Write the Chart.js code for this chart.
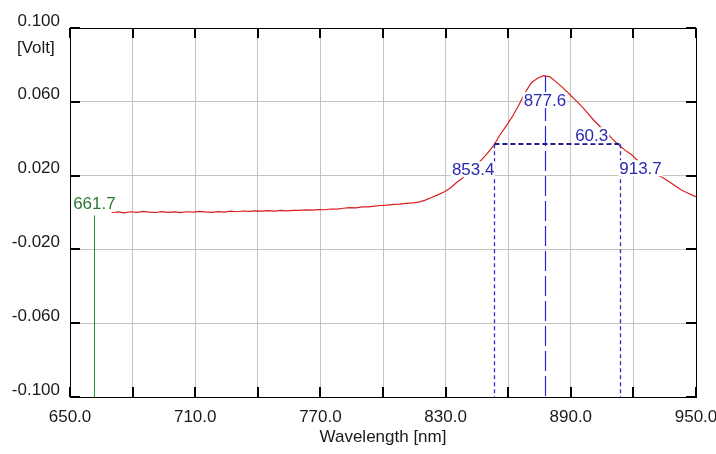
<!DOCTYPE html>
<html><head><meta charset="utf-8">
<script src="https://cdn.jsdelivr.net/npm/chart.js@4/dist/chart.umd.min.js"></script>
<style>html,body{margin:0;padding:0;background:#fff}#wrap{position:relative;width:716px;height:454px}</style>
</head><body><div id="wrap"><canvas id="c" width="716" height="454"></canvas></div>
<script>
// ---- data ----
const wavelengths = [670,673,676,679,682,685,688,691,694,697,700,703,706,709,712,715,718,721,724,727,730,733,736,739,742,745,748,751,754,757,760,763,766,769,772,775,778,781,784,787,790,793,796,799,802,805,808,811,814,817,820,823,826,829,832,835,838,841,844,847,850,853,856,859,862,865,868,871,874,877,880,883,886,889,892,895,898,901,904,907,910,913,916,919,922,925,928,931,934,937,940,943,946,949,950];
const voltage = [0.0000,0.0003,-0.0002,0.0004,0.0001,0.0006,0.0002,0.0000,0.0005,0.0001,0.0003,-0.0001,0.0004,0.0002,0.0006,0.0003,0.0001,0.0005,0.0002,0.0007,0.0004,0.0008,0.0006,0.0009,0.0007,0.0010,0.0008,0.0011,0.0009,0.0012,0.0011,0.0014,0.0013,0.0016,0.0015,0.0019,0.0018,0.0023,0.0026,0.0025,0.0030,0.0031,0.0035,0.0038,0.0040,0.0044,0.0045,0.0049,0.0052,0.0056,0.0066,0.0080,0.0094,0.0110,0.0130,0.0160,0.0186,0.0216,0.0248,0.0283,0.0320,0.0362,0.0420,0.0468,0.0520,0.0580,0.0648,0.0702,0.0728,0.0742,0.0735,0.0708,0.0678,0.0645,0.0612,0.0578,0.0540,0.0500,0.0466,0.0436,0.0398,0.0366,0.0338,0.0315,0.0282,0.0252,0.0228,0.0206,0.0190,0.0168,0.0145,0.0122,0.0106,0.0090,0.0086];

const xGridValues = [650,680,710,740,770,800,830,860,890,920,950];
const xLabelValues = [650,710,770,830,890,950];
const xLabelTexts = ['650.0','710.0','770.0','830.0','890.0','950.0'];
const yGridValues = [-0.1,-0.06,-0.02,0.02,0.06,0.1];
const yLabelTexts = ['-0.100','-0.060','-0.020','0.020','0.060','0.100'];

const startMarker = 661.7;
const startMarkerText = '661.7';
const peakWavelength = 877.6;
const peakValue = 0.074;
const peakText = '877.6';
const halfLeft = 853.4;
const halfLeftText = '853.4';
const halfRight = 913.7;
const halfRightText = '913.7';
const halfLevel = 0.037;
const fwhmText = '60.3';
const yUnitText = '[Volt]';
const xTitleText = 'Wavelength [nm]';

// ---- drawing ----
const FONT = '"Liberation Sans", Arial, sans-serif';

const overlay = {
  id: 'overlay',
  afterDatasetsDraw(chart) {
    const ctx = chart.ctx, a = chart.chartArea;
    const xs = chart.scales.x, ys = chart.scales.y;
    const px = v => xs.getPixelForValue(v), py = v => ys.getPixelForValue(v);
    ctx.save();
    // frame
    ctx.strokeStyle = '#000'; ctx.lineWidth = 1; ctx.setLineDash([]);
    ctx.strokeRect(Math.round(a.left) + 0.5, Math.round(a.top) + 0.5, Math.round(a.right - a.left), Math.round(a.bottom - a.top));
    // inner ticks
    ctx.lineWidth = 2;
    ctx.beginPath();
    xGridValues.forEach(v => {
      const x = Math.round(px(v));
      ctx.moveTo(x, a.bottom); ctx.lineTo(x, a.bottom - 10);
      ctx.moveTo(x, a.top); ctx.lineTo(x, a.top + 10);
    });
    yGridValues.forEach(v => {
      const y = Math.round(py(v));
      ctx.moveTo(a.left, y); ctx.lineTo(a.left + 10, y);
      ctx.moveTo(a.right, y); ctx.lineTo(a.right - 10, y);
    });
    ctx.stroke();

    // green start marker
    const gx = Math.round(px(startMarker)) + 0.5;
    ctx.strokeStyle = '#1f9a2a'; ctx.lineWidth = 1;
    ctx.beginPath(); ctx.moveTo(gx, py(voltage[0]) + 3); ctx.lineTo(gx, a.bottom); ctx.stroke();

    // peak centre line
    const cx = Math.round(px(peakWavelength)) + 0.5;
    ctx.strokeStyle = '#2626d4'; ctx.lineWidth = 1.2; ctx.setLineDash([20, 5]);
    ctx.beginPath(); ctx.moveTo(cx, py(peakValue)); ctx.lineTo(cx, a.bottom); ctx.stroke();

    // half-width verticals
    ctx.strokeStyle = '#3030c8'; ctx.lineWidth = 1.3; ctx.setLineDash([4, 3]);
    [halfLeft, halfRight].forEach(w => {
      const x = Math.round(px(w)) + 0.5;
      ctx.beginPath(); ctx.moveTo(x, py(halfLevel)); ctx.lineTo(x, a.bottom); ctx.stroke();
    });
    // half-width horizontal
    ctx.strokeStyle = '#1c1c8c'; ctx.lineWidth = 2; ctx.setLineDash([5, 3]);
    const hy = Math.round(py(halfLevel));
    ctx.beginPath(); ctx.moveTo(px(halfLeft), hy); ctx.lineTo(px(halfRight), hy); ctx.stroke();
    ctx.setLineDash([]);

    // labels with white background
    ctx.font = '17px ' + FONT;
    ctx.textBaseline = 'middle';
    const label = (t, x, y, align, color) => {
      const w = ctx.measureText(t).width;
      let l = x;
      if (align === 'center') l = x - w / 2; else if (align === 'right') l = x - w;
      ctx.fillStyle = '#fff';
      ctx.fillRect(l - 1, y - 8, w + 2, 16);
      ctx.fillStyle = color; ctx.textAlign = 'left';
      ctx.fillText(t, l, y + 1);
    };
    const blue = '#2a2ab0';
    label(startMarkerText, px(startMarker), py(voltage[0]) - 9, 'center', '#2c7a36');
    label(peakText, px(peakWavelength), py(peakValue) + 24, 'center', blue);
    label(halfLeftText, px(halfLeft), py(halfLevel) + 25, 'right', blue);
    label(halfRightText, px(halfRight) - 1, py(halfLevel) + 24, 'left', blue);
    label(fwhmText, px(halfRight) - 12, py(halfLevel) - 9, 'right', blue);

    // unit label
    ctx.fillStyle = '#1a1a1a'; ctx.textAlign = 'left';
    ctx.fillText(yUnitText, 17, 48);
    ctx.restore();
  }
};

new Chart(document.getElementById('c'), {
  type: 'line',
  data: {
    datasets: [{
      data: wavelengths.map((w, i) => ({ x: w, y: voltage[i] })),
      borderColor: '#d81e1e',
      borderWidth: 1.2,
      pointRadius: 0,
      tension: 0,
      fill: false
    }]
  },
  options: {
    responsive: false,
    animation: false,
    devicePixelRatio: 1,
    layout: { padding: { top: 28, right: 20, left: 0, bottom: 0 } },
    plugins: { legend: { display: false }, tooltip: { enabled: false } },
    scales: {
      x: {
        type: 'linear', min: 650, max: 950,
        afterBuildTicks: s => { s.ticks = xGridValues.map(v => ({ value: v })); },
        afterFit: s => { s.height = 57; s.paddingLeft = 0; s.paddingRight = 0; },
        ticks: {
          autoSkip: false, maxRotation: 0, padding: 10, color: '#1a1a1a',
          font: { family: FONT, size: 17 },
          callback: v => { const i = xLabelValues.indexOf(v); return i >= 0 ? xLabelTexts[i] : ''; }
        },
        grid: { color: '#c4c4c4', drawTicks: false, lineWidth: 1 },
        border: { display: true, color: '#000', width: 1 },
        title: { display: true, text: xTitleText, color: '#1a1a1a', font: { family: FONT, size: 17 }, padding: { top: 2, bottom: 6 } }
      },
      y: {
        type: 'linear', min: -0.1, max: 0.1,
        afterBuildTicks: s => { s.ticks = yGridValues.map(v => ({ value: v })); },
        afterFit: s => { s.width = 70; s.paddingTop = 0; s.paddingBottom = 0; },
        ticks: {
          padding: 10, labelOffset: -7, color: '#1a1a1a',
          font: { family: FONT, size: 17 },
          callback: v => { const i = yGridValues.findIndex(g => Math.abs(g - v) < 1e-9); return i >= 0 ? yLabelTexts[i] : ''; }
        },
        grid: { color: '#c4c4c4', drawTicks: false, lineWidth: 1 },
        border: { display: true, color: '#000', width: 1 }
      }
    }
  },
  plugins: [overlay]
});
</script>
</body></html>
